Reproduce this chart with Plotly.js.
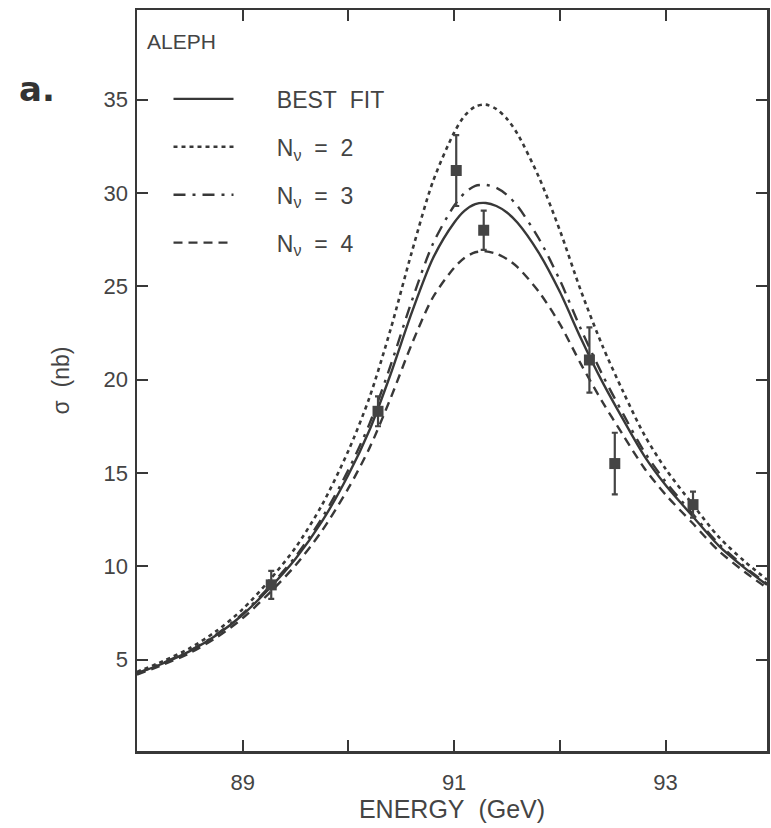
<!DOCTYPE html>
<html>
<head>
<meta charset="utf-8">
<script src="https://cdn.plot.ly/plotly-3.0.1.min.js"></script>
<style>html,body{margin:0;padding:0;background:#fff;}#chart{width:771px;height:828px;}</style>
</head>
<body>
<div id="chart"></div>
<script>
// Energy grid (GeV) for the curves
const energy = [88.0, 88.25, 88.5, 88.75, 89.0, 89.25, 89.5, 89.75, 90.0, 90.2, 90.4, 90.6, 90.8, 91.0, 91.1, 91.2, 91.3, 91.4, 91.5, 91.6, 91.8, 92.0, 92.2, 92.4, 92.6, 92.8, 93.0, 93.25, 93.5, 93.75, 93.96];
// Cross sections (nb)
const bestFit = [4.25, 4.8, 5.45, 6.3, 7.4, 8.8, 10.4, 12.4, 14.9, 17.3, 20.3, 23.6, 26.5, 28.4, 29.05, 29.4, 29.46, 29.3, 28.95, 28.4, 26.8, 24.7, 22.2, 19.9, 17.85, 15.9, 14.35, 12.72, 11.12, 9.9, 9.0];
const nu2 = [4.34, 4.92, 5.61, 6.52, 7.70, 9.23, 11.0, 13.28, 16.19, 19.05, 22.71, 26.84, 30.62, 33.23, 34.14, 34.63, 34.73, 34.49, 33.97, 33.16, 30.87, 28.0, 24.75, 21.85, 19.34, 17.03, 15.22, 13.36, 11.59, 10.25, 9.28];
const nu3 = [4.27, 4.83, 5.48, 6.34, 7.46, 8.89, 10.52, 12.58, 15.16, 17.64, 20.77, 24.22, 27.28, 29.31, 30.0, 30.38, 30.43, 30.27, 29.89, 29.29, 27.57, 25.33, 22.70, 20.29, 18.15, 16.13, 14.53, 12.85, 11.22, 9.97, 9.06];
const nu4 = [4.19, 4.73, 5.35, 6.17, 7.22, 8.55, 10.05, 11.9, 14.18, 16.34, 19.01, 21.91, 24.41, 25.99, 26.53, 26.82, 26.87, 26.74, 26.46, 26.02, 24.72, 22.98, 20.83, 18.83, 17.01, 15.25, 13.84, 12.34, 10.84, 9.69, 8.83];
// Measured points
const dataE = [89.27, 90.28, 91.02, 91.28, 92.28, 92.52, 93.26];
const dataSigma = [9.0, 18.3, 31.2, 28.0, 21.05, 15.5, 13.3];
const dataErr = [0.75, 0.8, 1.9, 1.05, 1.75, 1.65, 0.7];
// Labels
const NB = '\u00a0';
const pad = NB.repeat(6);
const legendNames = [pad + 'BEST' + NB + NB + 'FIT', pad + 'N<sub>ν</sub>' + NB + NB + '=' + NB + NB + '2', pad + 'N<sub>ν</sub>' + NB + NB + '=' + NB + NB + '3', pad + 'N<sub>ν</sub>' + NB + NB + '=' + NB + NB + '4'];
const xTickVals = [89, 90, 91, 92, 93];
const xTickText = ['89', '', '91', '', '93'];
const yTickVals = [5, 10, 15, 20, 25, 30, 35];

const ink = '#383838';
const font = 'Liberation Sans, Arial, sans-serif';

const traces = [
  {x: energy, y: bestFit, mode: 'lines', name: legendNames[0], legendgroup: 'a', line: {color: ink, width: 2.4, shape: 'spline', smoothing: 0.8, dash: 'solid'}},
  {x: energy, y: nu2, mode: 'lines', name: legendNames[1], legendgroup: 'b', line: {color: ink, width: 2.6, shape: 'spline', smoothing: 0.8, dash: '4px,4px'}},
  {x: energy, y: nu3, mode: 'lines', name: legendNames[2], legendgroup: 'c', line: {color: ink, width: 2.4, shape: 'spline', smoothing: 0.8, dash: '12px,7px,3px,7px'}},
  {x: energy, y: nu4, mode: 'lines', name: legendNames[3], legendgroup: 'd', line: {color: ink, width: 2.4, shape: 'spline', smoothing: 0.8, dash: '9px,6px'}},
  {x: dataE, y: dataSigma, mode: 'markers', showlegend: false,
   marker: {symbol: 'square', size: 11, color: '#444'},
   error_y: {type: 'data', array: dataErr, visible: true, color: '#444', thickness: 2.2, width: 3}}
];

const layout = {
  width: 771, height: 828,
  margin: {l: 137, r: 4, t: 10, b: 77},
  paper_bgcolor: '#ffffff', plot_bgcolor: '#ffffff',
  font: {family: font, color: '#444', size: 20},
  showlegend: true,
  legend: {x: 0.05, y: 0.909, xanchor: 'left', yanchor: 'top', bgcolor: 'rgba(0,0,0,0)',
           font: {family: font, size: 23, color: '#444'}, tracegroupgap: 15, itemwidth: 60},
  xaxis: {range: [88, 93.96], tickvals: xTickVals, ticktext: xTickText, ticks: 'inside', ticklen: 11, tickwidth: 2, tickcolor: ink,
          showline: true, linecolor: ink, linewidth: 2.5, mirror: 'ticks', showgrid: false, zeroline: false,
          ticklabelstandoff: 10,
          tickfont: {family: font, size: 22, color: '#444'},
          title: {text: 'ENERGY' + NB + NB + '(GeV)', font: {family: font, size: 25, color: '#444'}, standoff: 3}},
  yaxis: {range: [0.1, 39.8], tickvals: yTickVals, ticks: 'inside', ticklen: 11, tickwidth: 2, tickcolor: ink,
          showline: true, linecolor: ink, linewidth: 2.5, mirror: 'ticks', showgrid: false, zeroline: false,
          ticklabelstandoff: 2,
          tickfont: {family: font, size: 22, color: '#444'},
          title: {text: 'σ' + NB + NB + '(nb)', font: {family: font, size: 23, color: '#444'}, standoff: 28}},
  annotations: [
    {xref: 'paper', yref: 'paper', x: 0.012, y: 0.958, xanchor: 'left', yanchor: 'middle', showarrow: false,
     text: 'ALEPH', font: {family: font, size: 21, color: '#444'}},
    {xref: 'paper', yref: 'paper', x: -0.19, y: 0.893, xanchor: 'left', yanchor: 'middle', showarrow: false,
     text: '<b>a.</b>', font: {family: 'DejaVu Sans, sans-serif', size: 34, color: '#333'}}
  ]
};

Plotly.newPlot('chart', traces, layout, {displayModeBar: false, staticPlot: true});
</script>
</body>
</html>
